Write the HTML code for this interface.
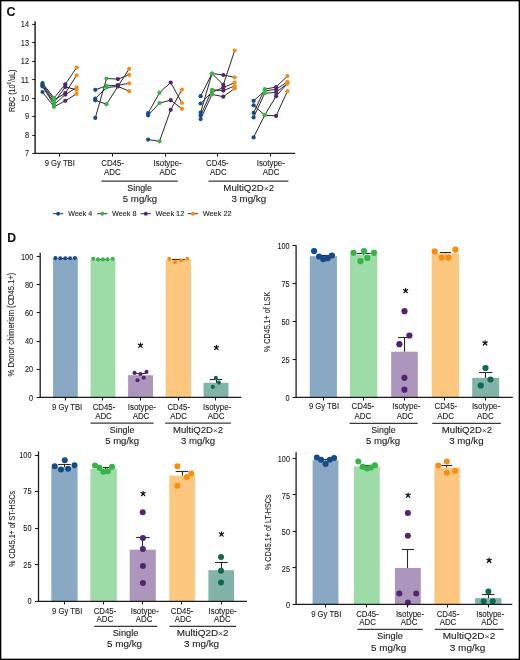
<!DOCTYPE html>
<html><head><meta charset="utf-8"><title>Figure</title>
<style>html,body{margin:0;padding:0;background:#fff;}text{stroke:#1c1c1c;stroke-width:0.1px;}svg{display:block;will-change:transform;font-family:"Liberation Sans", sans-serif;}</style>
</head><body>
<svg width="520" height="660" viewBox="0 0 520 660">
<rect x="0.5" y="0.5" width="519" height="659" fill="#fff" stroke="#000" stroke-width="1.7"/>
<text x="6.60" y="15.80" font-size="12.4" text-anchor="start" fill="#111" font-weight="bold">C</text>
<line x1="35.10" y1="21.20" x2="35.10" y2="154.00" stroke="#1c1c1c" stroke-width="1.4"/>
<line x1="32.30" y1="24.50" x2="35.30" y2="24.50" stroke="#1c1c1c" stroke-width="1.1"/>
<text x="29.00" y="27.20" font-size="8.4" text-anchor="end" fill="#1c1c1c" font-weight="normal" textLength="8.20" lengthAdjust="spacingAndGlyphs">14</text>
<line x1="32.30" y1="42.50" x2="35.30" y2="42.50" stroke="#1c1c1c" stroke-width="1.1"/>
<text x="29.00" y="45.65" font-size="8.4" text-anchor="end" fill="#1c1c1c" font-weight="normal" textLength="8.20" lengthAdjust="spacingAndGlyphs">13</text>
<line x1="32.30" y1="61.50" x2="35.30" y2="61.50" stroke="#1c1c1c" stroke-width="1.1"/>
<text x="29.00" y="64.10" font-size="8.4" text-anchor="end" fill="#1c1c1c" font-weight="normal" textLength="8.20" lengthAdjust="spacingAndGlyphs">12</text>
<line x1="32.30" y1="79.50" x2="35.30" y2="79.50" stroke="#1c1c1c" stroke-width="1.1"/>
<text x="29.00" y="82.55" font-size="8.4" text-anchor="end" fill="#1c1c1c" font-weight="normal" textLength="8.20" lengthAdjust="spacingAndGlyphs">11</text>
<line x1="32.30" y1="98.50" x2="35.30" y2="98.50" stroke="#1c1c1c" stroke-width="1.1"/>
<text x="29.00" y="101.00" font-size="8.4" text-anchor="end" fill="#1c1c1c" font-weight="normal" textLength="8.20" lengthAdjust="spacingAndGlyphs">10</text>
<line x1="32.30" y1="116.50" x2="35.30" y2="116.50" stroke="#1c1c1c" stroke-width="1.1"/>
<text x="29.00" y="119.45" font-size="8.4" text-anchor="end" fill="#1c1c1c" font-weight="normal" textLength="4.10" lengthAdjust="spacingAndGlyphs">9</text>
<line x1="32.30" y1="135.50" x2="35.30" y2="135.50" stroke="#1c1c1c" stroke-width="1.1"/>
<text x="29.00" y="137.90" font-size="8.4" text-anchor="end" fill="#1c1c1c" font-weight="normal" textLength="4.10" lengthAdjust="spacingAndGlyphs">8</text>
<line x1="32.30" y1="153.50" x2="35.30" y2="153.50" stroke="#1c1c1c" stroke-width="1.1"/>
<text x="29.00" y="156.35" font-size="8.4" text-anchor="end" fill="#1c1c1c" font-weight="normal" textLength="4.10" lengthAdjust="spacingAndGlyphs">7</text>
<line x1="34.70" y1="153.40" x2="295.20" y2="153.40" stroke="#1c1c1c" stroke-width="1.25"/>
<line x1="59.50" y1="153.40" x2="59.50" y2="156.60" stroke="#1c1c1c" stroke-width="1.1"/>
<line x1="112.50" y1="153.40" x2="112.50" y2="156.60" stroke="#1c1c1c" stroke-width="1.1"/>
<line x1="165.50" y1="153.40" x2="165.50" y2="156.60" stroke="#1c1c1c" stroke-width="1.1"/>
<line x1="217.50" y1="153.40" x2="217.50" y2="156.60" stroke="#1c1c1c" stroke-width="1.1"/>
<line x1="270.50" y1="153.40" x2="270.50" y2="156.60" stroke="#1c1c1c" stroke-width="1.1"/>
<text transform="translate(14.8,90.8) rotate(-90)" font-size="9.6" text-anchor="middle" fill="#1c1c1c" textLength="42.5" lengthAdjust="spacingAndGlyphs">RBC (10<tspan font-size="6" dy="-3.6">6</tspan><tspan dy="3.6">/uL)</tspan></text>
<text x="59.80" y="165.90" font-size="8.5" text-anchor="middle" fill="#1c1c1c" font-weight="normal" textLength="30.20" lengthAdjust="spacingAndGlyphs">9 Gy TBI</text>
<text x="112.60" y="165.90" font-size="8.5" text-anchor="middle" fill="#1c1c1c" font-weight="normal" textLength="22.60" lengthAdjust="spacingAndGlyphs">CD45-</text>
<text x="167.70" y="165.90" font-size="8.5" text-anchor="middle" fill="#1c1c1c" font-weight="normal" textLength="28.20" lengthAdjust="spacingAndGlyphs">Isotype-</text>
<text x="217.40" y="165.90" font-size="8.5" text-anchor="middle" fill="#1c1c1c" font-weight="normal" textLength="22.60" lengthAdjust="spacingAndGlyphs">CD45-</text>
<text x="270.80" y="165.90" font-size="8.5" text-anchor="middle" fill="#1c1c1c" font-weight="normal" textLength="28.20" lengthAdjust="spacingAndGlyphs">Isotype-</text>
<text x="112.45" y="175.30" font-size="8.5" text-anchor="middle" fill="#1c1c1c" font-weight="normal" textLength="16.70" lengthAdjust="spacingAndGlyphs">ADC</text>
<text x="167.85" y="175.30" font-size="8.5" text-anchor="middle" fill="#1c1c1c" font-weight="normal" textLength="16.70" lengthAdjust="spacingAndGlyphs">ADC</text>
<text x="218.30" y="175.30" font-size="8.5" text-anchor="middle" fill="#1c1c1c" font-weight="normal" textLength="16.70" lengthAdjust="spacingAndGlyphs">ADC</text>
<text x="271.10" y="175.30" font-size="8.5" text-anchor="middle" fill="#1c1c1c" font-weight="normal" textLength="16.70" lengthAdjust="spacingAndGlyphs">ADC</text>
<line x1="101.50" y1="181.10" x2="177.70" y2="181.10" stroke="#3a3a3a" stroke-width="1.15"/>
<line x1="208.50" y1="181.10" x2="288.40" y2="181.10" stroke="#3a3a3a" stroke-width="1.15"/>
<text x="139.70" y="190.80" font-size="8.7" text-anchor="middle" fill="#1c1c1c" font-weight="normal" textLength="24.70" lengthAdjust="spacingAndGlyphs">Single</text>
<text x="140.00" y="201.60" font-size="8.7" text-anchor="middle" fill="#1c1c1c" font-weight="normal" textLength="34.40" lengthAdjust="spacingAndGlyphs">5 mg/kg</text>
<text x="248.80" y="190.80" font-size="8.7" text-anchor="middle" fill="#1c1c1c" font-weight="normal" textLength="50.90" lengthAdjust="spacingAndGlyphs">MultiQ2D<tspan font-size="7.6" fill="#444" stroke="none">×</tspan>2</text>
<text x="248.80" y="201.60" font-size="8.7" text-anchor="middle" fill="#1c1c1c" font-weight="normal" textLength="34.70" lengthAdjust="spacingAndGlyphs">3 mg/kg</text>
<path d="M42.50,83.10 L54.00,98.00 L65.30,84.30 L76.60,67.60" fill="none" stroke="#1e1e1e" stroke-width="0.95"/>
<path d="M42.50,84.40 L54.00,100.00 L65.30,93.20 L76.60,75.30" fill="none" stroke="#1e1e1e" stroke-width="0.95"/>
<path d="M42.50,85.50 L54.00,102.50 L65.30,86.90 L76.60,89.80" fill="none" stroke="#1e1e1e" stroke-width="0.95"/>
<path d="M42.50,86.40 L54.00,104.70 L65.30,94.60 L76.60,87.40" fill="none" stroke="#1e1e1e" stroke-width="0.95"/>
<path d="M42.50,92.00 L54.00,106.80 L65.30,100.80 L76.60,93.80" fill="none" stroke="#1e1e1e" stroke-width="0.95"/>
<path d="M95.30,89.80 L106.50,85.80 L117.90,85.20 L129.20,83.30" fill="none" stroke="#1e1e1e" stroke-width="0.95"/>
<path d="M95.30,98.50 L106.50,87.60 L117.90,86.40 L129.20,91.20" fill="none" stroke="#1e1e1e" stroke-width="0.95"/>
<path d="M95.30,117.90 L106.50,78.50 L117.90,79.10 L129.20,74.80" fill="none" stroke="#1e1e1e" stroke-width="0.95"/>
<path d="M95.30,100.30 L106.50,104.20 L129.20,68.80" fill="none" stroke="#1e1e1e" stroke-width="0.95"/>
<path d="M148.10,113.20 L159.50,92.70 L170.70,82.50 L182.00,103.00" fill="none" stroke="#1e1e1e" stroke-width="0.95"/>
<path d="M148.10,115.30 L159.50,103.00 L170.70,100.20 L182.00,108.80" fill="none" stroke="#1e1e1e" stroke-width="0.95"/>
<path d="M148.10,139.60 L159.50,141.30 L170.70,109.80 L182.00,89.60" fill="none" stroke="#1e1e1e" stroke-width="0.95"/>
<path d="M200.60,96.20 L212.00,73.50 L223.30,75.00 L234.70,77.40" fill="none" stroke="#1e1e1e" stroke-width="0.95"/>
<path d="M200.60,103.50 L212.00,92.10 L223.30,87.60 L234.70,82.60" fill="none" stroke="#1e1e1e" stroke-width="0.95"/>
<path d="M200.60,112.60 L212.00,73.50 L223.30,84.80 L234.70,50.50" fill="none" stroke="#1e1e1e" stroke-width="0.95"/>
<path d="M200.60,115.60 L212.00,89.80 L223.30,90.60 L234.70,86.00" fill="none" stroke="#1e1e1e" stroke-width="0.95"/>
<path d="M200.60,119.10 L212.00,94.40 L223.30,96.70 L234.70,88.30" fill="none" stroke="#1e1e1e" stroke-width="0.95"/>
<path d="M253.60,100.80 L264.70,90.90 L276.10,89.40 L287.40,81.80" fill="none" stroke="#1e1e1e" stroke-width="0.95"/>
<path d="M253.60,105.30 L264.70,115.20 L276.10,96.20 L287.40,83.60" fill="none" stroke="#1e1e1e" stroke-width="0.95"/>
<path d="M253.60,112.90 L264.70,89.10 L276.10,87.10 L287.40,76.10" fill="none" stroke="#1e1e1e" stroke-width="0.95"/>
<path d="M253.60,117.40 L264.70,93.20 L276.10,92.40 L287.40,83.60" fill="none" stroke="#1e1e1e" stroke-width="0.95"/>
<path d="M253.60,137.40 L264.70,115.20 L276.10,115.90 L287.40,91.20" fill="none" stroke="#1e1e1e" stroke-width="0.95"/>
<circle cx="42.50" cy="83.10" r="2.1" fill="#174b88"/>
<circle cx="42.50" cy="84.40" r="2.1" fill="#174b88"/>
<circle cx="42.50" cy="85.50" r="2.1" fill="#174b88"/>
<circle cx="42.50" cy="86.40" r="2.1" fill="#174b88"/>
<circle cx="42.50" cy="92.00" r="2.1" fill="#174b88"/>
<circle cx="54.00" cy="98.00" r="2.1" fill="#36b447"/>
<circle cx="54.00" cy="100.00" r="2.1" fill="#36b447"/>
<circle cx="54.00" cy="102.50" r="2.1" fill="#36b447"/>
<circle cx="54.00" cy="104.70" r="2.1" fill="#36b447"/>
<circle cx="54.00" cy="106.80" r="2.1" fill="#36b447"/>
<circle cx="65.30" cy="84.30" r="2.1" fill="#532374"/>
<circle cx="65.30" cy="93.20" r="2.1" fill="#532374"/>
<circle cx="65.30" cy="86.90" r="2.1" fill="#532374"/>
<circle cx="65.30" cy="94.60" r="2.1" fill="#532374"/>
<circle cx="65.30" cy="100.80" r="2.1" fill="#532374"/>
<circle cx="76.60" cy="67.60" r="2.1" fill="#f88d12"/>
<circle cx="76.60" cy="75.30" r="2.1" fill="#f88d12"/>
<circle cx="76.60" cy="89.80" r="2.1" fill="#f88d12"/>
<circle cx="76.60" cy="87.40" r="2.1" fill="#f88d12"/>
<circle cx="76.60" cy="93.80" r="2.1" fill="#f88d12"/>
<circle cx="95.30" cy="89.80" r="2.1" fill="#174b88"/>
<circle cx="95.30" cy="98.50" r="2.1" fill="#174b88"/>
<circle cx="95.30" cy="117.90" r="2.1" fill="#174b88"/>
<circle cx="95.30" cy="100.30" r="2.1" fill="#174b88"/>
<circle cx="106.50" cy="85.80" r="2.1" fill="#36b447"/>
<circle cx="106.50" cy="87.60" r="2.1" fill="#36b447"/>
<circle cx="106.50" cy="78.50" r="2.1" fill="#36b447"/>
<circle cx="106.50" cy="104.20" r="2.1" fill="#36b447"/>
<circle cx="117.90" cy="85.20" r="2.1" fill="#532374"/>
<circle cx="117.90" cy="86.40" r="2.1" fill="#532374"/>
<circle cx="117.90" cy="79.10" r="2.1" fill="#532374"/>
<circle cx="129.20" cy="83.30" r="2.1" fill="#f88d12"/>
<circle cx="129.20" cy="91.20" r="2.1" fill="#f88d12"/>
<circle cx="129.20" cy="74.80" r="2.1" fill="#f88d12"/>
<circle cx="129.20" cy="68.80" r="2.1" fill="#f88d12"/>
<circle cx="148.10" cy="113.20" r="2.1" fill="#174b88"/>
<circle cx="148.10" cy="115.30" r="2.1" fill="#174b88"/>
<circle cx="148.10" cy="139.60" r="2.1" fill="#174b88"/>
<circle cx="159.50" cy="92.70" r="2.1" fill="#36b447"/>
<circle cx="159.50" cy="103.00" r="2.1" fill="#36b447"/>
<circle cx="159.50" cy="141.30" r="2.1" fill="#36b447"/>
<circle cx="170.70" cy="82.50" r="2.1" fill="#532374"/>
<circle cx="170.70" cy="100.20" r="2.1" fill="#532374"/>
<circle cx="170.70" cy="109.80" r="2.1" fill="#532374"/>
<circle cx="182.00" cy="103.00" r="2.1" fill="#f88d12"/>
<circle cx="182.00" cy="108.80" r="2.1" fill="#f88d12"/>
<circle cx="182.00" cy="89.60" r="2.1" fill="#f88d12"/>
<circle cx="200.60" cy="96.20" r="2.1" fill="#174b88"/>
<circle cx="200.60" cy="103.50" r="2.1" fill="#174b88"/>
<circle cx="200.60" cy="112.60" r="2.1" fill="#174b88"/>
<circle cx="200.60" cy="115.60" r="2.1" fill="#174b88"/>
<circle cx="200.60" cy="119.10" r="2.1" fill="#174b88"/>
<circle cx="212.00" cy="73.50" r="2.1" fill="#36b447"/>
<circle cx="212.00" cy="92.10" r="2.1" fill="#36b447"/>
<circle cx="212.00" cy="73.50" r="2.1" fill="#36b447"/>
<circle cx="212.00" cy="89.80" r="2.1" fill="#36b447"/>
<circle cx="212.00" cy="94.40" r="2.1" fill="#36b447"/>
<circle cx="223.30" cy="75.00" r="2.1" fill="#532374"/>
<circle cx="223.30" cy="87.60" r="2.1" fill="#532374"/>
<circle cx="223.30" cy="84.80" r="2.1" fill="#532374"/>
<circle cx="223.30" cy="90.60" r="2.1" fill="#532374"/>
<circle cx="223.30" cy="96.70" r="2.1" fill="#532374"/>
<circle cx="234.70" cy="77.40" r="2.1" fill="#f88d12"/>
<circle cx="234.70" cy="82.60" r="2.1" fill="#f88d12"/>
<circle cx="234.70" cy="50.50" r="2.1" fill="#f88d12"/>
<circle cx="234.70" cy="86.00" r="2.1" fill="#f88d12"/>
<circle cx="234.70" cy="88.30" r="2.1" fill="#f88d12"/>
<circle cx="253.60" cy="100.80" r="2.1" fill="#174b88"/>
<circle cx="253.60" cy="105.30" r="2.1" fill="#174b88"/>
<circle cx="253.60" cy="112.90" r="2.1" fill="#174b88"/>
<circle cx="253.60" cy="117.40" r="2.1" fill="#174b88"/>
<circle cx="253.60" cy="137.40" r="2.1" fill="#174b88"/>
<circle cx="264.70" cy="90.90" r="2.1" fill="#36b447"/>
<circle cx="264.70" cy="115.20" r="2.1" fill="#36b447"/>
<circle cx="264.70" cy="89.10" r="2.1" fill="#36b447"/>
<circle cx="264.70" cy="93.20" r="2.1" fill="#36b447"/>
<circle cx="264.70" cy="115.20" r="2.1" fill="#36b447"/>
<circle cx="276.10" cy="89.40" r="2.1" fill="#532374"/>
<circle cx="276.10" cy="96.20" r="2.1" fill="#532374"/>
<circle cx="276.10" cy="87.10" r="2.1" fill="#532374"/>
<circle cx="276.10" cy="92.40" r="2.1" fill="#532374"/>
<circle cx="276.10" cy="115.90" r="2.1" fill="#532374"/>
<circle cx="287.40" cy="81.80" r="2.1" fill="#f88d12"/>
<circle cx="287.40" cy="83.60" r="2.1" fill="#f88d12"/>
<circle cx="287.40" cy="76.10" r="2.1" fill="#f88d12"/>
<circle cx="287.40" cy="83.60" r="2.1" fill="#f88d12"/>
<circle cx="287.40" cy="91.20" r="2.1" fill="#f88d12"/>
<line x1="52.90" y1="213.70" x2="63.10" y2="213.70" stroke="#333" stroke-width="1.0"/>
<circle cx="58.10" cy="213.70" r="1.95" fill="#174b88"/>
<text x="68.30" y="215.90" font-size="6.9" text-anchor="start" fill="#1c1c1c" font-weight="normal" textLength="24.00" lengthAdjust="spacingAndGlyphs">Week 4</text>
<line x1="97.10" y1="213.70" x2="107.30" y2="213.70" stroke="#333" stroke-width="1.0"/>
<circle cx="102.30" cy="213.70" r="1.95" fill="#36b447"/>
<text x="111.90" y="215.90" font-size="6.9" text-anchor="start" fill="#1c1c1c" font-weight="normal" textLength="24.60" lengthAdjust="spacingAndGlyphs">Week 8</text>
<line x1="140.60" y1="213.70" x2="150.80" y2="213.70" stroke="#333" stroke-width="1.0"/>
<circle cx="145.80" cy="213.70" r="1.95" fill="#532374"/>
<text x="155.40" y="215.90" font-size="6.9" text-anchor="start" fill="#1c1c1c" font-weight="normal" textLength="28.90" lengthAdjust="spacingAndGlyphs">Week 12</text>
<line x1="187.70" y1="213.70" x2="197.90" y2="213.70" stroke="#333" stroke-width="1.0"/>
<circle cx="192.90" cy="213.70" r="1.95" fill="#f88d12"/>
<text x="202.70" y="215.90" font-size="6.9" text-anchor="start" fill="#1c1c1c" font-weight="normal" textLength="28.90" lengthAdjust="spacingAndGlyphs">Week 22</text>
<text x="7.20" y="242.30" font-size="12.2" text-anchor="start" fill="#111" font-weight="bold">D</text>
<rect x="53.10" y="258.00" width="24.70" height="139.30" fill="#89a8c3"/>
<rect x="90.50" y="259.20" width="24.90" height="138.10" fill="#9ddca6"/>
<rect x="128.10" y="375.20" width="24.90" height="22.10" fill="#ad96bb"/>
<rect x="165.70" y="260.10" width="25.30" height="137.20" fill="#fec77f"/>
<rect x="203.60" y="382.80" width="24.90" height="14.50" fill="#82b3a8"/>
<line x1="64.50" y1="258.10" x2="64.50" y2="258.50" stroke="#2a2a2a" stroke-width="1.1"/>
<line x1="61.50" y1="258.50" x2="68.30" y2="258.50" stroke="#2a2a2a" stroke-width="1.1"/>
<line x1="102.50" y1="259.20" x2="102.50" y2="259.50" stroke="#2a2a2a" stroke-width="1.1"/>
<line x1="100.10" y1="259.50" x2="105.70" y2="259.50" stroke="#2a2a2a" stroke-width="1.1"/>
<line x1="140.50" y1="375.20" x2="140.50" y2="373.50" stroke="#2a2a2a" stroke-width="1.1"/>
<line x1="135.30" y1="373.50" x2="145.70" y2="373.50" stroke="#2a2a2a" stroke-width="1.1"/>
<line x1="178.50" y1="260.10" x2="178.50" y2="259.50" stroke="#2a2a2a" stroke-width="1.1"/>
<line x1="171.90" y1="259.50" x2="184.90" y2="259.50" stroke="#2a2a2a" stroke-width="1.1"/>
<line x1="216.50" y1="382.80" x2="216.50" y2="379.50" stroke="#2a2a2a" stroke-width="1.1"/>
<line x1="209.80" y1="379.50" x2="222.20" y2="379.50" stroke="#2a2a2a" stroke-width="1.1"/>
<circle cx="55.40" cy="258.10" r="2.05" fill="#174b88"/>
<circle cx="60.30" cy="258.30" r="2.05" fill="#174b88"/>
<circle cx="65.20" cy="258.30" r="2.05" fill="#174b88"/>
<circle cx="70.10" cy="258.30" r="2.05" fill="#174b88"/>
<circle cx="74.90" cy="258.10" r="2.05" fill="#174b88"/>
<circle cx="93.30" cy="258.70" r="2.05" fill="#36b447"/>
<circle cx="98.00" cy="259.40" r="2.05" fill="#36b447"/>
<circle cx="102.90" cy="259.40" r="2.05" fill="#36b447"/>
<circle cx="107.60" cy="259.40" r="2.05" fill="#36b447"/>
<circle cx="112.60" cy="258.70" r="2.05" fill="#36b447"/>
<circle cx="134.50" cy="372.90" r="2.05" fill="#532374"/>
<circle cx="140.40" cy="374.00" r="2.05" fill="#532374"/>
<circle cx="146.50" cy="371.90" r="2.05" fill="#532374"/>
<circle cx="143.70" cy="377.70" r="2.05" fill="#532374"/>
<circle cx="137.50" cy="380.20" r="2.05" fill="#532374"/>
<circle cx="169.20" cy="258.90" r="2.05" fill="#f88d12"/>
<circle cx="175.10" cy="262.30" r="2.05" fill="#f88d12"/>
<circle cx="181.20" cy="260.20" r="2.05" fill="#f88d12"/>
<circle cx="187.40" cy="258.80" r="2.05" fill="#f88d12"/>
<circle cx="215.90" cy="377.90" r="2.05" fill="#0d6a50"/>
<circle cx="218.90" cy="382.60" r="2.05" fill="#0d6a50"/>
<circle cx="212.90" cy="386.90" r="2.05" fill="#0d6a50"/>
<path d="M140.50,345.50 L140.50,343.00 M140.50,345.50 L142.62,344.18 M140.50,345.50 L142.20,347.33 M140.50,345.50 L138.80,347.33 M140.50,345.50 L138.38,344.18" stroke="#111" stroke-width="1.2" stroke-linecap="round" fill="none"/>
<circle cx="140.50" cy="345.50" r="0.85" fill="#111"/>
<path d="M216.40,347.80 L216.40,345.30 M216.40,347.80 L218.52,346.48 M216.40,347.80 L218.10,349.63 M216.40,347.80 L214.70,349.63 M216.40,347.80 L214.28,346.48" stroke="#111" stroke-width="1.2" stroke-linecap="round" fill="none"/>
<circle cx="216.40" cy="347.80" r="0.85" fill="#111"/>
<line x1="40.20" y1="252.70" x2="40.20" y2="397.95" stroke="#1c1c1c" stroke-width="1.3"/>
<line x1="39.55" y1="397.30" x2="241.30" y2="397.30" stroke="#1c1c1c" stroke-width="1.3"/>
<line x1="36.70" y1="397.50" x2="40.20" y2="397.50" stroke="#1c1c1c" stroke-width="1.1"/>
<text x="33.20" y="400.50" font-size="8.4" text-anchor="end" fill="#1c1c1c" font-weight="normal" textLength="4.10" lengthAdjust="spacingAndGlyphs">0</text>
<line x1="36.70" y1="369.50" x2="40.20" y2="369.50" stroke="#1c1c1c" stroke-width="1.1"/>
<text x="33.20" y="372.38" font-size="8.4" text-anchor="end" fill="#1c1c1c" font-weight="normal" textLength="8.20" lengthAdjust="spacingAndGlyphs">20</text>
<line x1="36.70" y1="341.50" x2="40.20" y2="341.50" stroke="#1c1c1c" stroke-width="1.1"/>
<text x="33.20" y="344.26" font-size="8.4" text-anchor="end" fill="#1c1c1c" font-weight="normal" textLength="8.20" lengthAdjust="spacingAndGlyphs">40</text>
<line x1="36.70" y1="312.50" x2="40.20" y2="312.50" stroke="#1c1c1c" stroke-width="1.1"/>
<text x="33.20" y="316.14" font-size="8.4" text-anchor="end" fill="#1c1c1c" font-weight="normal" textLength="8.20" lengthAdjust="spacingAndGlyphs">60</text>
<line x1="36.70" y1="284.50" x2="40.20" y2="284.50" stroke="#1c1c1c" stroke-width="1.1"/>
<text x="33.20" y="288.02" font-size="8.4" text-anchor="end" fill="#1c1c1c" font-weight="normal" textLength="8.20" lengthAdjust="spacingAndGlyphs">80</text>
<line x1="36.70" y1="256.50" x2="40.20" y2="256.50" stroke="#1c1c1c" stroke-width="1.1"/>
<text x="33.20" y="259.90" font-size="8.4" text-anchor="end" fill="#1c1c1c" font-weight="normal" textLength="12.20" lengthAdjust="spacingAndGlyphs">100</text>
<line x1="65.50" y1="397.30" x2="65.50" y2="400.50" stroke="#1c1c1c" stroke-width="1.1"/>
<line x1="102.50" y1="397.30" x2="102.50" y2="400.50" stroke="#1c1c1c" stroke-width="1.1"/>
<line x1="140.50" y1="397.30" x2="140.50" y2="400.50" stroke="#1c1c1c" stroke-width="1.1"/>
<line x1="178.50" y1="397.30" x2="178.50" y2="400.50" stroke="#1c1c1c" stroke-width="1.1"/>
<line x1="215.50" y1="397.30" x2="215.50" y2="400.50" stroke="#1c1c1c" stroke-width="1.1"/>
<text x="67.10" y="409.50" font-size="8.5" text-anchor="middle" fill="#1c1c1c" font-weight="normal" textLength="30.20" lengthAdjust="spacingAndGlyphs">9 Gy TBI</text>
<text x="104.00" y="409.50" font-size="8.5" text-anchor="middle" fill="#1c1c1c" font-weight="normal" textLength="22.60" lengthAdjust="spacingAndGlyphs">CD45-</text>
<text x="141.90" y="409.50" font-size="8.5" text-anchor="middle" fill="#1c1c1c" font-weight="normal" textLength="28.20" lengthAdjust="spacingAndGlyphs">Isotype-</text>
<text x="178.70" y="409.50" font-size="8.5" text-anchor="middle" fill="#1c1c1c" font-weight="normal" textLength="22.60" lengthAdjust="spacingAndGlyphs">CD45-</text>
<text x="217.10" y="409.50" font-size="8.5" text-anchor="middle" fill="#1c1c1c" font-weight="normal" textLength="28.20" lengthAdjust="spacingAndGlyphs">Isotype-</text>
<text x="103.50" y="419.20" font-size="8.5" text-anchor="middle" fill="#1c1c1c" font-weight="normal" textLength="16.70" lengthAdjust="spacingAndGlyphs">ADC</text>
<text x="141.00" y="419.20" font-size="8.5" text-anchor="middle" fill="#1c1c1c" font-weight="normal" textLength="16.70" lengthAdjust="spacingAndGlyphs">ADC</text>
<text x="178.70" y="419.20" font-size="8.5" text-anchor="middle" fill="#1c1c1c" font-weight="normal" textLength="16.70" lengthAdjust="spacingAndGlyphs">ADC</text>
<text x="216.20" y="419.20" font-size="8.5" text-anchor="middle" fill="#1c1c1c" font-weight="normal" textLength="16.70" lengthAdjust="spacingAndGlyphs">ADC</text>
<line x1="90.50" y1="423.10" x2="153.60" y2="423.10" stroke="#3a3a3a" stroke-width="1.15"/>
<line x1="165.20" y1="423.10" x2="230.90" y2="423.10" stroke="#3a3a3a" stroke-width="1.15"/>
<text x="122.10" y="432.60" font-size="8.7" text-anchor="middle" fill="#1c1c1c" font-weight="normal" textLength="24.60" lengthAdjust="spacingAndGlyphs">Single</text>
<text x="122.20" y="443.70" font-size="8.7" text-anchor="middle" fill="#1c1c1c" font-weight="normal" textLength="34.00" lengthAdjust="spacingAndGlyphs">5 mg/kg</text>
<text x="198.10" y="432.60" font-size="8.7" text-anchor="middle" fill="#1c1c1c" font-weight="normal" textLength="50.00" lengthAdjust="spacingAndGlyphs">MultiQ2D<tspan font-size="7.6" fill="#444" stroke="none">×</tspan>2</text>
<text x="198.00" y="443.70" font-size="8.7" text-anchor="middle" fill="#1c1c1c" font-weight="normal" textLength="34.20" lengthAdjust="spacingAndGlyphs">3 mg/kg</text>
<text transform="translate(14.00,324.50) rotate(-90)" font-size="9.6" text-anchor="middle" fill="#1c1c1c" textLength="103.80" lengthAdjust="spacingAndGlyphs">% Donor chimerism (CD45.1+)</text>
<rect x="309.80" y="256.20" width="27.10" height="141.10" fill="#89a8c3"/>
<rect x="350.10" y="254.80" width="27.20" height="142.50" fill="#9ddca6"/>
<rect x="391.20" y="351.70" width="26.60" height="45.60" fill="#ad96bb"/>
<rect x="431.70" y="253.40" width="27.40" height="143.90" fill="#fec77f"/>
<rect x="472.20" y="377.80" width="27.00" height="19.50" fill="#82b3a8"/>
<line x1="323.50" y1="256.20" x2="323.50" y2="255.50" stroke="#2a2a2a" stroke-width="1.1"/>
<line x1="316.80" y1="255.50" x2="329.80" y2="255.50" stroke="#2a2a2a" stroke-width="1.1"/>
<line x1="363.50" y1="254.80" x2="363.50" y2="253.50" stroke="#2a2a2a" stroke-width="1.1"/>
<line x1="356.70" y1="253.50" x2="370.70" y2="253.50" stroke="#2a2a2a" stroke-width="1.1"/>
<line x1="404.50" y1="351.70" x2="404.50" y2="337.50" stroke="#2a2a2a" stroke-width="1.1"/>
<line x1="398.00" y1="337.50" x2="411.00" y2="337.50" stroke="#2a2a2a" stroke-width="1.1"/>
<line x1="445.50" y1="253.40" x2="445.50" y2="252.50" stroke="#2a2a2a" stroke-width="1.1"/>
<line x1="439.90" y1="252.50" x2="450.90" y2="252.50" stroke="#2a2a2a" stroke-width="1.1"/>
<line x1="485.50" y1="377.80" x2="485.50" y2="372.50" stroke="#2a2a2a" stroke-width="1.1"/>
<line x1="479.10" y1="372.50" x2="492.30" y2="372.50" stroke="#2a2a2a" stroke-width="1.1"/>
<circle cx="314.10" cy="251.10" r="3.1" fill="#174b88"/>
<circle cx="319.10" cy="256.50" r="3.1" fill="#174b88"/>
<circle cx="323.20" cy="259.10" r="3.1" fill="#174b88"/>
<circle cx="327.60" cy="258.20" r="3.1" fill="#174b88"/>
<circle cx="331.90" cy="255.50" r="3.1" fill="#174b88"/>
<circle cx="353.50" cy="252.80" r="3.1" fill="#36b447"/>
<circle cx="364.00" cy="251.10" r="3.1" fill="#36b447"/>
<circle cx="374.00" cy="252.80" r="3.1" fill="#36b447"/>
<circle cx="367.30" cy="257.90" r="3.1" fill="#36b447"/>
<circle cx="360.50" cy="261.20" r="3.1" fill="#36b447"/>
<circle cx="404.50" cy="311.20" r="3.1" fill="#532374"/>
<circle cx="409.40" cy="335.50" r="3.1" fill="#532374"/>
<circle cx="399.40" cy="344.20" r="3.1" fill="#532374"/>
<circle cx="404.40" cy="377.80" r="3.1" fill="#532374"/>
<circle cx="404.40" cy="389.70" r="3.1" fill="#532374"/>
<circle cx="434.70" cy="251.40" r="3.1" fill="#f88d12"/>
<circle cx="441.70" cy="257.60" r="3.1" fill="#f88d12"/>
<circle cx="448.40" cy="257.60" r="3.1" fill="#f88d12"/>
<circle cx="455.40" cy="249.70" r="3.1" fill="#f88d12"/>
<circle cx="485.50" cy="368.00" r="3.1" fill="#0d6a50"/>
<circle cx="490.50" cy="379.50" r="3.1" fill="#0d6a50"/>
<circle cx="480.80" cy="385.50" r="3.1" fill="#0d6a50"/>
<path d="M405.60,290.90 L405.60,288.40 M405.60,290.90 L407.72,289.58 M405.60,290.90 L407.30,292.73 M405.60,290.90 L403.90,292.73 M405.60,290.90 L403.48,289.58" stroke="#111" stroke-width="1.2" stroke-linecap="round" fill="none"/>
<circle cx="405.60" cy="290.90" r="0.85" fill="#111"/>
<path d="M485.10,343.20 L485.10,340.70 M485.10,343.20 L487.22,341.88 M485.10,343.20 L486.80,345.03 M485.10,343.20 L483.40,345.03 M485.10,343.20 L482.98,341.88" stroke="#111" stroke-width="1.2" stroke-linecap="round" fill="none"/>
<circle cx="485.10" cy="343.20" r="0.85" fill="#111"/>
<line x1="296.10" y1="245.20" x2="296.10" y2="397.95" stroke="#1c1c1c" stroke-width="1.3"/>
<line x1="295.45" y1="397.30" x2="512.80" y2="397.30" stroke="#1c1c1c" stroke-width="1.3"/>
<line x1="292.60" y1="397.50" x2="296.10" y2="397.50" stroke="#1c1c1c" stroke-width="1.1"/>
<text x="289.60" y="401.00" font-size="8.4" text-anchor="end" fill="#1c1c1c" font-weight="normal" textLength="4.10" lengthAdjust="spacingAndGlyphs">0</text>
<line x1="292.60" y1="359.50" x2="296.10" y2="359.50" stroke="#1c1c1c" stroke-width="1.1"/>
<text x="289.60" y="363.00" font-size="8.4" text-anchor="end" fill="#1c1c1c" font-weight="normal" textLength="8.20" lengthAdjust="spacingAndGlyphs">25</text>
<line x1="292.60" y1="321.50" x2="296.10" y2="321.50" stroke="#1c1c1c" stroke-width="1.1"/>
<text x="289.60" y="325.00" font-size="8.4" text-anchor="end" fill="#1c1c1c" font-weight="normal" textLength="8.20" lengthAdjust="spacingAndGlyphs">50</text>
<line x1="292.60" y1="283.50" x2="296.10" y2="283.50" stroke="#1c1c1c" stroke-width="1.1"/>
<text x="289.60" y="287.00" font-size="8.4" text-anchor="end" fill="#1c1c1c" font-weight="normal" textLength="8.20" lengthAdjust="spacingAndGlyphs">75</text>
<line x1="292.60" y1="245.50" x2="296.10" y2="245.50" stroke="#1c1c1c" stroke-width="1.1"/>
<text x="289.60" y="249.00" font-size="8.4" text-anchor="end" fill="#1c1c1c" font-weight="normal" textLength="12.20" lengthAdjust="spacingAndGlyphs">100</text>
<line x1="323.50" y1="397.30" x2="323.50" y2="400.50" stroke="#1c1c1c" stroke-width="1.1"/>
<line x1="363.50" y1="397.30" x2="363.50" y2="400.50" stroke="#1c1c1c" stroke-width="1.1"/>
<line x1="404.50" y1="397.30" x2="404.50" y2="400.50" stroke="#1c1c1c" stroke-width="1.1"/>
<line x1="444.50" y1="397.30" x2="444.50" y2="400.50" stroke="#1c1c1c" stroke-width="1.1"/>
<line x1="485.50" y1="397.30" x2="485.50" y2="400.50" stroke="#1c1c1c" stroke-width="1.1"/>
<text x="324.00" y="409.10" font-size="8.5" text-anchor="middle" fill="#1c1c1c" font-weight="normal" textLength="30.20" lengthAdjust="spacingAndGlyphs">9 Gy TBI</text>
<text x="362.90" y="409.10" font-size="8.5" text-anchor="middle" fill="#1c1c1c" font-weight="normal" textLength="22.60" lengthAdjust="spacingAndGlyphs">CD45-</text>
<text x="406.40" y="409.10" font-size="8.5" text-anchor="middle" fill="#1c1c1c" font-weight="normal" textLength="28.20" lengthAdjust="spacingAndGlyphs">Isotype-</text>
<text x="445.80" y="409.10" font-size="8.5" text-anchor="middle" fill="#1c1c1c" font-weight="normal" textLength="22.60" lengthAdjust="spacingAndGlyphs">CD45-</text>
<text x="486.00" y="409.10" font-size="8.5" text-anchor="middle" fill="#1c1c1c" font-weight="normal" textLength="28.20" lengthAdjust="spacingAndGlyphs">Isotype-</text>
<text x="362.90" y="419.10" font-size="8.5" text-anchor="middle" fill="#1c1c1c" font-weight="normal" textLength="16.70" lengthAdjust="spacingAndGlyphs">ADC</text>
<text x="405.00" y="419.10" font-size="8.5" text-anchor="middle" fill="#1c1c1c" font-weight="normal" textLength="16.70" lengthAdjust="spacingAndGlyphs">ADC</text>
<text x="445.70" y="419.10" font-size="8.5" text-anchor="middle" fill="#1c1c1c" font-weight="normal" textLength="16.70" lengthAdjust="spacingAndGlyphs">ADC</text>
<text x="485.30" y="419.10" font-size="8.5" text-anchor="middle" fill="#1c1c1c" font-weight="normal" textLength="16.70" lengthAdjust="spacingAndGlyphs">ADC</text>
<line x1="349.50" y1="423.40" x2="417.70" y2="423.40" stroke="#3a3a3a" stroke-width="1.15"/>
<line x1="432.30" y1="423.40" x2="500.80" y2="423.40" stroke="#3a3a3a" stroke-width="1.15"/>
<text x="383.40" y="432.70" font-size="8.7" text-anchor="middle" fill="#1c1c1c" font-weight="normal" textLength="24.50" lengthAdjust="spacingAndGlyphs">Single</text>
<text x="383.10" y="444.00" font-size="8.7" text-anchor="middle" fill="#1c1c1c" font-weight="normal" textLength="34.20" lengthAdjust="spacingAndGlyphs">5 mg/kg</text>
<text x="467.00" y="432.70" font-size="8.7" text-anchor="middle" fill="#1c1c1c" font-weight="normal" textLength="50.40" lengthAdjust="spacingAndGlyphs">MultiQ2D<tspan font-size="7.6" fill="#444" stroke="none">×</tspan>2</text>
<text x="466.40" y="444.00" font-size="8.7" text-anchor="middle" fill="#1c1c1c" font-weight="normal" textLength="34.30" lengthAdjust="spacingAndGlyphs">3 mg/kg</text>
<text transform="translate(269.70,321.90) rotate(-90)" font-size="9.6" text-anchor="middle" fill="#1c1c1c" textLength="60.20" lengthAdjust="spacingAndGlyphs">% CD45.1+ of LSK</text>
<rect x="51.30" y="467.30" width="26.30" height="134.00" fill="#89a8c3"/>
<rect x="90.40" y="468.80" width="26.40" height="132.50" fill="#9ddca6"/>
<rect x="129.70" y="549.70" width="26.10" height="51.60" fill="#ad96bb"/>
<rect x="169.30" y="475.60" width="25.60" height="125.70" fill="#fec77f"/>
<rect x="208.40" y="570.20" width="25.60" height="31.10" fill="#82b3a8"/>
<line x1="64.50" y1="467.30" x2="64.50" y2="464.50" stroke="#2a2a2a" stroke-width="1.1"/>
<line x1="58.10" y1="464.50" x2="70.90" y2="464.50" stroke="#2a2a2a" stroke-width="1.1"/>
<line x1="105.50" y1="468.80" x2="105.50" y2="467.50" stroke="#2a2a2a" stroke-width="1.1"/>
<line x1="102.90" y1="467.50" x2="108.90" y2="467.50" stroke="#2a2a2a" stroke-width="1.1"/>
<line x1="142.50" y1="549.70" x2="142.50" y2="537.50" stroke="#2a2a2a" stroke-width="1.1"/>
<line x1="136.10" y1="537.50" x2="149.50" y2="537.50" stroke="#2a2a2a" stroke-width="1.1"/>
<line x1="182.50" y1="475.60" x2="182.50" y2="471.50" stroke="#2a2a2a" stroke-width="1.1"/>
<line x1="175.70" y1="471.50" x2="188.30" y2="471.50" stroke="#2a2a2a" stroke-width="1.1"/>
<line x1="221.50" y1="570.20" x2="221.50" y2="562.50" stroke="#2a2a2a" stroke-width="1.1"/>
<line x1="215.00" y1="562.50" x2="227.60" y2="562.50" stroke="#2a2a2a" stroke-width="1.1"/>
<circle cx="54.70" cy="466.20" r="3.0" fill="#174b88"/>
<circle cx="61.00" cy="469.60" r="3.0" fill="#174b88"/>
<circle cx="64.80" cy="460.20" r="3.0" fill="#174b88"/>
<circle cx="68.10" cy="468.80" r="3.0" fill="#174b88"/>
<circle cx="74.50" cy="465.20" r="3.0" fill="#174b88"/>
<circle cx="95.00" cy="465.60" r="3.0" fill="#36b447"/>
<circle cx="99.50" cy="467.70" r="3.0" fill="#36b447"/>
<circle cx="103.30" cy="471.80" r="3.0" fill="#36b447"/>
<circle cx="107.80" cy="471.20" r="3.0" fill="#36b447"/>
<circle cx="112.00" cy="466.70" r="3.0" fill="#36b447"/>
<circle cx="142.70" cy="512.30" r="3.0" fill="#532374"/>
<circle cx="142.90" cy="537.90" r="3.0" fill="#532374"/>
<circle cx="142.90" cy="548.90" r="3.0" fill="#532374"/>
<circle cx="142.90" cy="565.90" r="3.0" fill="#532374"/>
<circle cx="142.90" cy="582.90" r="3.0" fill="#532374"/>
<circle cx="177.40" cy="466.20" r="3.0" fill="#f88d12"/>
<circle cx="191.40" cy="473.50" r="3.0" fill="#f88d12"/>
<circle cx="186.80" cy="477.00" r="3.0" fill="#f88d12"/>
<circle cx="177.40" cy="485.80" r="3.0" fill="#f88d12"/>
<circle cx="221.00" cy="557.00" r="3.0" fill="#0d6a50"/>
<circle cx="221.00" cy="570.80" r="3.0" fill="#0d6a50"/>
<circle cx="221.00" cy="582.60" r="3.0" fill="#0d6a50"/>
<path d="M143.10,493.90 L143.10,491.40 M143.10,493.90 L145.22,492.58 M143.10,493.90 L144.80,495.73 M143.10,493.90 L141.40,495.73 M143.10,493.90 L140.98,492.58" stroke="#111" stroke-width="1.2" stroke-linecap="round" fill="none"/>
<circle cx="143.10" cy="493.90" r="0.85" fill="#111"/>
<path d="M221.50,534.30 L221.50,531.80 M221.50,534.30 L223.62,532.98 M221.50,534.30 L223.20,536.13 M221.50,534.30 L219.80,536.13 M221.50,534.30 L219.38,532.98" stroke="#111" stroke-width="1.2" stroke-linecap="round" fill="none"/>
<circle cx="221.50" cy="534.30" r="0.85" fill="#111"/>
<line x1="38.50" y1="451.30" x2="38.50" y2="601.95" stroke="#1c1c1c" stroke-width="1.3"/>
<line x1="37.85" y1="601.30" x2="246.90" y2="601.30" stroke="#1c1c1c" stroke-width="1.3"/>
<line x1="35.00" y1="601.50" x2="38.50" y2="601.50" stroke="#1c1c1c" stroke-width="1.1"/>
<text x="31.50" y="604.10" font-size="8.4" text-anchor="end" fill="#1c1c1c" font-weight="normal" textLength="4.10" lengthAdjust="spacingAndGlyphs">0</text>
<line x1="35.00" y1="564.50" x2="38.50" y2="564.50" stroke="#1c1c1c" stroke-width="1.1"/>
<text x="31.50" y="567.52" font-size="8.4" text-anchor="end" fill="#1c1c1c" font-weight="normal" textLength="8.20" lengthAdjust="spacingAndGlyphs">25</text>
<line x1="35.00" y1="528.50" x2="38.50" y2="528.50" stroke="#1c1c1c" stroke-width="1.1"/>
<text x="31.50" y="530.95" font-size="8.4" text-anchor="end" fill="#1c1c1c" font-weight="normal" textLength="8.20" lengthAdjust="spacingAndGlyphs">50</text>
<line x1="35.00" y1="491.50" x2="38.50" y2="491.50" stroke="#1c1c1c" stroke-width="1.1"/>
<text x="31.50" y="494.38" font-size="8.4" text-anchor="end" fill="#1c1c1c" font-weight="normal" textLength="8.20" lengthAdjust="spacingAndGlyphs">75</text>
<line x1="35.00" y1="455.50" x2="38.50" y2="455.50" stroke="#1c1c1c" stroke-width="1.1"/>
<text x="31.50" y="457.80" font-size="8.4" text-anchor="end" fill="#1c1c1c" font-weight="normal" textLength="12.20" lengthAdjust="spacingAndGlyphs">100</text>
<line x1="64.50" y1="601.30" x2="64.50" y2="604.50" stroke="#1c1c1c" stroke-width="1.1"/>
<line x1="103.50" y1="601.30" x2="103.50" y2="604.50" stroke="#1c1c1c" stroke-width="1.1"/>
<line x1="142.50" y1="601.30" x2="142.50" y2="604.50" stroke="#1c1c1c" stroke-width="1.1"/>
<line x1="181.50" y1="601.30" x2="181.50" y2="604.50" stroke="#1c1c1c" stroke-width="1.1"/>
<line x1="221.50" y1="601.30" x2="221.50" y2="604.50" stroke="#1c1c1c" stroke-width="1.1"/>
<text x="67.20" y="613.60" font-size="8.5" text-anchor="middle" fill="#1c1c1c" font-weight="normal" textLength="30.20" lengthAdjust="spacingAndGlyphs">9 Gy TBI</text>
<text x="105.00" y="613.60" font-size="8.5" text-anchor="middle" fill="#1c1c1c" font-weight="normal" textLength="22.60" lengthAdjust="spacingAndGlyphs">CD45-</text>
<text x="144.80" y="613.60" font-size="8.5" text-anchor="middle" fill="#1c1c1c" font-weight="normal" textLength="28.20" lengthAdjust="spacingAndGlyphs">Isotype-</text>
<text x="182.10" y="613.60" font-size="8.5" text-anchor="middle" fill="#1c1c1c" font-weight="normal" textLength="22.60" lengthAdjust="spacingAndGlyphs">CD45-</text>
<text x="222.60" y="613.60" font-size="8.5" text-anchor="middle" fill="#1c1c1c" font-weight="normal" textLength="28.20" lengthAdjust="spacingAndGlyphs">Isotype-</text>
<text x="104.80" y="621.70" font-size="8.5" text-anchor="middle" fill="#1c1c1c" font-weight="normal" textLength="16.70" lengthAdjust="spacingAndGlyphs">ADC</text>
<text x="144.10" y="621.70" font-size="8.5" text-anchor="middle" fill="#1c1c1c" font-weight="normal" textLength="16.70" lengthAdjust="spacingAndGlyphs">ADC</text>
<text x="183.00" y="621.70" font-size="8.5" text-anchor="middle" fill="#1c1c1c" font-weight="normal" textLength="16.70" lengthAdjust="spacingAndGlyphs">ADC</text>
<text x="222.30" y="621.70" font-size="8.5" text-anchor="middle" fill="#1c1c1c" font-weight="normal" textLength="16.70" lengthAdjust="spacingAndGlyphs">ADC</text>
<line x1="94.20" y1="626.30" x2="157.40" y2="626.30" stroke="#3a3a3a" stroke-width="1.15"/>
<line x1="169.40" y1="626.30" x2="236.00" y2="626.30" stroke="#3a3a3a" stroke-width="1.15"/>
<text x="125.60" y="635.50" font-size="8.7" text-anchor="middle" fill="#1c1c1c" font-weight="normal" textLength="25.90" lengthAdjust="spacingAndGlyphs">Single</text>
<text x="124.50" y="646.80" font-size="8.7" text-anchor="middle" fill="#1c1c1c" font-weight="normal" textLength="35.20" lengthAdjust="spacingAndGlyphs">5 mg/kg</text>
<text x="202.70" y="635.50" font-size="8.7" text-anchor="middle" fill="#1c1c1c" font-weight="normal" textLength="51.90" lengthAdjust="spacingAndGlyphs">MultiQ2D<tspan font-size="7.6" fill="#444" stroke="none">×</tspan>2</text>
<text x="201.50" y="646.80" font-size="8.7" text-anchor="middle" fill="#1c1c1c" font-weight="normal" textLength="35.20" lengthAdjust="spacingAndGlyphs">3 mg/kg</text>
<text transform="translate(15.20,528.80) rotate(-90)" font-size="9.6" text-anchor="middle" fill="#1c1c1c" textLength="75.80" lengthAdjust="spacingAndGlyphs">% CD45.1+ of ST-HSCs</text>
<rect x="312.60" y="460.20" width="25.80" height="144.10" fill="#89a8c3"/>
<rect x="353.90" y="466.40" width="25.80" height="137.90" fill="#9ddca6"/>
<rect x="394.90" y="568.00" width="25.90" height="36.30" fill="#ad96bb"/>
<rect x="434.40" y="467.50" width="25.40" height="136.80" fill="#fec77f"/>
<rect x="475.10" y="598.10" width="26.30" height="6.20" fill="#82b3a8"/>
<line x1="325.50" y1="460.20" x2="325.50" y2="459.50" stroke="#2a2a2a" stroke-width="1.1"/>
<line x1="320.50" y1="459.50" x2="330.50" y2="459.50" stroke="#2a2a2a" stroke-width="1.1"/>
<line x1="366.50" y1="466.40" x2="366.50" y2="465.50" stroke="#2a2a2a" stroke-width="1.1"/>
<line x1="361.90" y1="465.50" x2="371.90" y2="465.50" stroke="#2a2a2a" stroke-width="1.1"/>
<line x1="407.50" y1="568.00" x2="407.50" y2="549.50" stroke="#2a2a2a" stroke-width="1.1"/>
<line x1="401.80" y1="549.50" x2="414.00" y2="549.50" stroke="#2a2a2a" stroke-width="1.1"/>
<line x1="446.50" y1="467.50" x2="446.50" y2="465.50" stroke="#2a2a2a" stroke-width="1.1"/>
<line x1="441.30" y1="465.50" x2="452.30" y2="465.50" stroke="#2a2a2a" stroke-width="1.1"/>
<line x1="488.50" y1="598.10" x2="488.50" y2="594.50" stroke="#2a2a2a" stroke-width="1.1"/>
<line x1="482.20" y1="594.50" x2="494.40" y2="594.50" stroke="#2a2a2a" stroke-width="1.1"/>
<circle cx="316.80" cy="457.50" r="3.0" fill="#174b88"/>
<circle cx="321.10" cy="459.80" r="3.0" fill="#174b88"/>
<circle cx="325.60" cy="464.10" r="3.0" fill="#174b88"/>
<circle cx="329.80" cy="459.80" r="3.0" fill="#174b88"/>
<circle cx="334.10" cy="457.90" r="3.0" fill="#174b88"/>
<circle cx="358.30" cy="461.50" r="3.0" fill="#36b447"/>
<circle cx="362.60" cy="466.70" r="3.0" fill="#36b447"/>
<circle cx="367.00" cy="468.40" r="3.0" fill="#36b447"/>
<circle cx="370.90" cy="467.40" r="3.0" fill="#36b447"/>
<circle cx="374.90" cy="465.30" r="3.0" fill="#36b447"/>
<circle cx="407.90" cy="513.10" r="3.0" fill="#532374"/>
<circle cx="407.90" cy="535.80" r="3.0" fill="#532374"/>
<circle cx="399.30" cy="593.50" r="3.0" fill="#532374"/>
<circle cx="416.20" cy="593.50" r="3.0" fill="#532374"/>
<circle cx="407.90" cy="602.50" r="3.0" fill="#532374"/>
<circle cx="438.20" cy="465.40" r="3.0" fill="#f88d12"/>
<circle cx="446.80" cy="461.50" r="3.0" fill="#f88d12"/>
<circle cx="455.10" cy="470.90" r="3.0" fill="#f88d12"/>
<circle cx="446.80" cy="472.70" r="3.0" fill="#f88d12"/>
<circle cx="488.40" cy="591.40" r="3.0" fill="#0d6a50"/>
<circle cx="483.70" cy="601.20" r="3.0" fill="#0d6a50"/>
<circle cx="492.80" cy="601.20" r="3.0" fill="#0d6a50"/>
<path d="M408.10,495.50 L408.10,493.00 M408.10,495.50 L410.22,494.18 M408.10,495.50 L409.80,497.33 M408.10,495.50 L406.40,497.33 M408.10,495.50 L405.98,494.18" stroke="#111" stroke-width="1.2" stroke-linecap="round" fill="none"/>
<circle cx="408.10" cy="495.50" r="0.85" fill="#111"/>
<path d="M489.10,560.70 L489.10,558.20 M489.10,560.70 L491.22,559.38 M489.10,560.70 L490.80,562.53 M489.10,560.70 L487.40,562.53 M489.10,560.70 L486.98,559.38" stroke="#111" stroke-width="1.2" stroke-linecap="round" fill="none"/>
<circle cx="489.10" cy="560.70" r="0.85" fill="#111"/>
<line x1="296.10" y1="452.30" x2="296.10" y2="604.95" stroke="#1c1c1c" stroke-width="1.3"/>
<line x1="295.45" y1="604.30" x2="512.30" y2="604.30" stroke="#1c1c1c" stroke-width="1.3"/>
<line x1="292.60" y1="604.50" x2="296.10" y2="604.50" stroke="#1c1c1c" stroke-width="1.1"/>
<text x="290.00" y="608.10" font-size="8.4" text-anchor="end" fill="#1c1c1c" font-weight="normal" textLength="4.10" lengthAdjust="spacingAndGlyphs">0</text>
<line x1="292.60" y1="567.50" x2="296.10" y2="567.50" stroke="#1c1c1c" stroke-width="1.1"/>
<text x="290.00" y="571.60" font-size="8.4" text-anchor="end" fill="#1c1c1c" font-weight="normal" textLength="8.20" lengthAdjust="spacingAndGlyphs">25</text>
<line x1="292.60" y1="531.50" x2="296.10" y2="531.50" stroke="#1c1c1c" stroke-width="1.1"/>
<text x="290.00" y="535.10" font-size="8.4" text-anchor="end" fill="#1c1c1c" font-weight="normal" textLength="8.20" lengthAdjust="spacingAndGlyphs">50</text>
<line x1="292.60" y1="494.50" x2="296.10" y2="494.50" stroke="#1c1c1c" stroke-width="1.1"/>
<text x="290.00" y="498.60" font-size="8.4" text-anchor="end" fill="#1c1c1c" font-weight="normal" textLength="8.20" lengthAdjust="spacingAndGlyphs">75</text>
<line x1="292.60" y1="458.50" x2="296.10" y2="458.50" stroke="#1c1c1c" stroke-width="1.1"/>
<text x="290.00" y="462.10" font-size="8.4" text-anchor="end" fill="#1c1c1c" font-weight="normal" textLength="12.20" lengthAdjust="spacingAndGlyphs">100</text>
<line x1="325.50" y1="604.30" x2="325.50" y2="607.50" stroke="#1c1c1c" stroke-width="1.1"/>
<line x1="366.50" y1="604.30" x2="366.50" y2="607.50" stroke="#1c1c1c" stroke-width="1.1"/>
<line x1="407.50" y1="604.30" x2="407.50" y2="607.50" stroke="#1c1c1c" stroke-width="1.1"/>
<line x1="447.50" y1="604.30" x2="447.50" y2="607.50" stroke="#1c1c1c" stroke-width="1.1"/>
<line x1="488.50" y1="604.30" x2="488.50" y2="607.50" stroke="#1c1c1c" stroke-width="1.1"/>
<text x="326.30" y="616.90" font-size="8.5" text-anchor="middle" fill="#1c1c1c" font-weight="normal" textLength="30.20" lengthAdjust="spacingAndGlyphs">9 Gy TBI</text>
<text x="367.50" y="616.90" font-size="8.5" text-anchor="middle" fill="#1c1c1c" font-weight="normal" textLength="22.60" lengthAdjust="spacingAndGlyphs">CD45-</text>
<text x="410.00" y="616.90" font-size="8.5" text-anchor="middle" fill="#1c1c1c" font-weight="normal" textLength="28.20" lengthAdjust="spacingAndGlyphs">Isotype-</text>
<text x="448.00" y="616.90" font-size="8.5" text-anchor="middle" fill="#1c1c1c" font-weight="normal" textLength="22.60" lengthAdjust="spacingAndGlyphs">CD45-</text>
<text x="490.30" y="616.90" font-size="8.5" text-anchor="middle" fill="#1c1c1c" font-weight="normal" textLength="28.20" lengthAdjust="spacingAndGlyphs">Isotype-</text>
<text x="367.60" y="625.00" font-size="8.5" text-anchor="middle" fill="#1c1c1c" font-weight="normal" textLength="16.70" lengthAdjust="spacingAndGlyphs">ADC</text>
<text x="409.20" y="625.00" font-size="8.5" text-anchor="middle" fill="#1c1c1c" font-weight="normal" textLength="16.70" lengthAdjust="spacingAndGlyphs">ADC</text>
<text x="448.00" y="625.00" font-size="8.5" text-anchor="middle" fill="#1c1c1c" font-weight="normal" textLength="16.70" lengthAdjust="spacingAndGlyphs">ADC</text>
<text x="489.70" y="625.00" font-size="8.5" text-anchor="middle" fill="#1c1c1c" font-weight="normal" textLength="16.70" lengthAdjust="spacingAndGlyphs">ADC</text>
<line x1="357.30" y1="629.40" x2="422.70" y2="629.40" stroke="#3a3a3a" stroke-width="1.15"/>
<line x1="434.80" y1="629.40" x2="503.60" y2="629.40" stroke="#3a3a3a" stroke-width="1.15"/>
<text x="390.00" y="639.30" font-size="8.7" text-anchor="middle" fill="#1c1c1c" font-weight="normal" textLength="25.80" lengthAdjust="spacingAndGlyphs">Single</text>
<text x="388.60" y="650.50" font-size="8.7" text-anchor="middle" fill="#1c1c1c" font-weight="normal" textLength="35.10" lengthAdjust="spacingAndGlyphs">5 mg/kg</text>
<text x="469.00" y="639.30" font-size="8.7" text-anchor="middle" fill="#1c1c1c" font-weight="normal" textLength="52.50" lengthAdjust="spacingAndGlyphs">MultiQ2D<tspan font-size="7.6" fill="#444" stroke="none">×</tspan>2</text>
<text x="467.50" y="650.50" font-size="8.7" text-anchor="middle" fill="#1c1c1c" font-weight="normal" textLength="35.40" lengthAdjust="spacingAndGlyphs">3 mg/kg</text>
<text transform="translate(271.20,532.20) rotate(-90)" font-size="9.6" text-anchor="middle" fill="#1c1c1c" textLength="75.70" lengthAdjust="spacingAndGlyphs">% CD45.1+ of LT-HSCs</text>
</svg>
</body></html>
